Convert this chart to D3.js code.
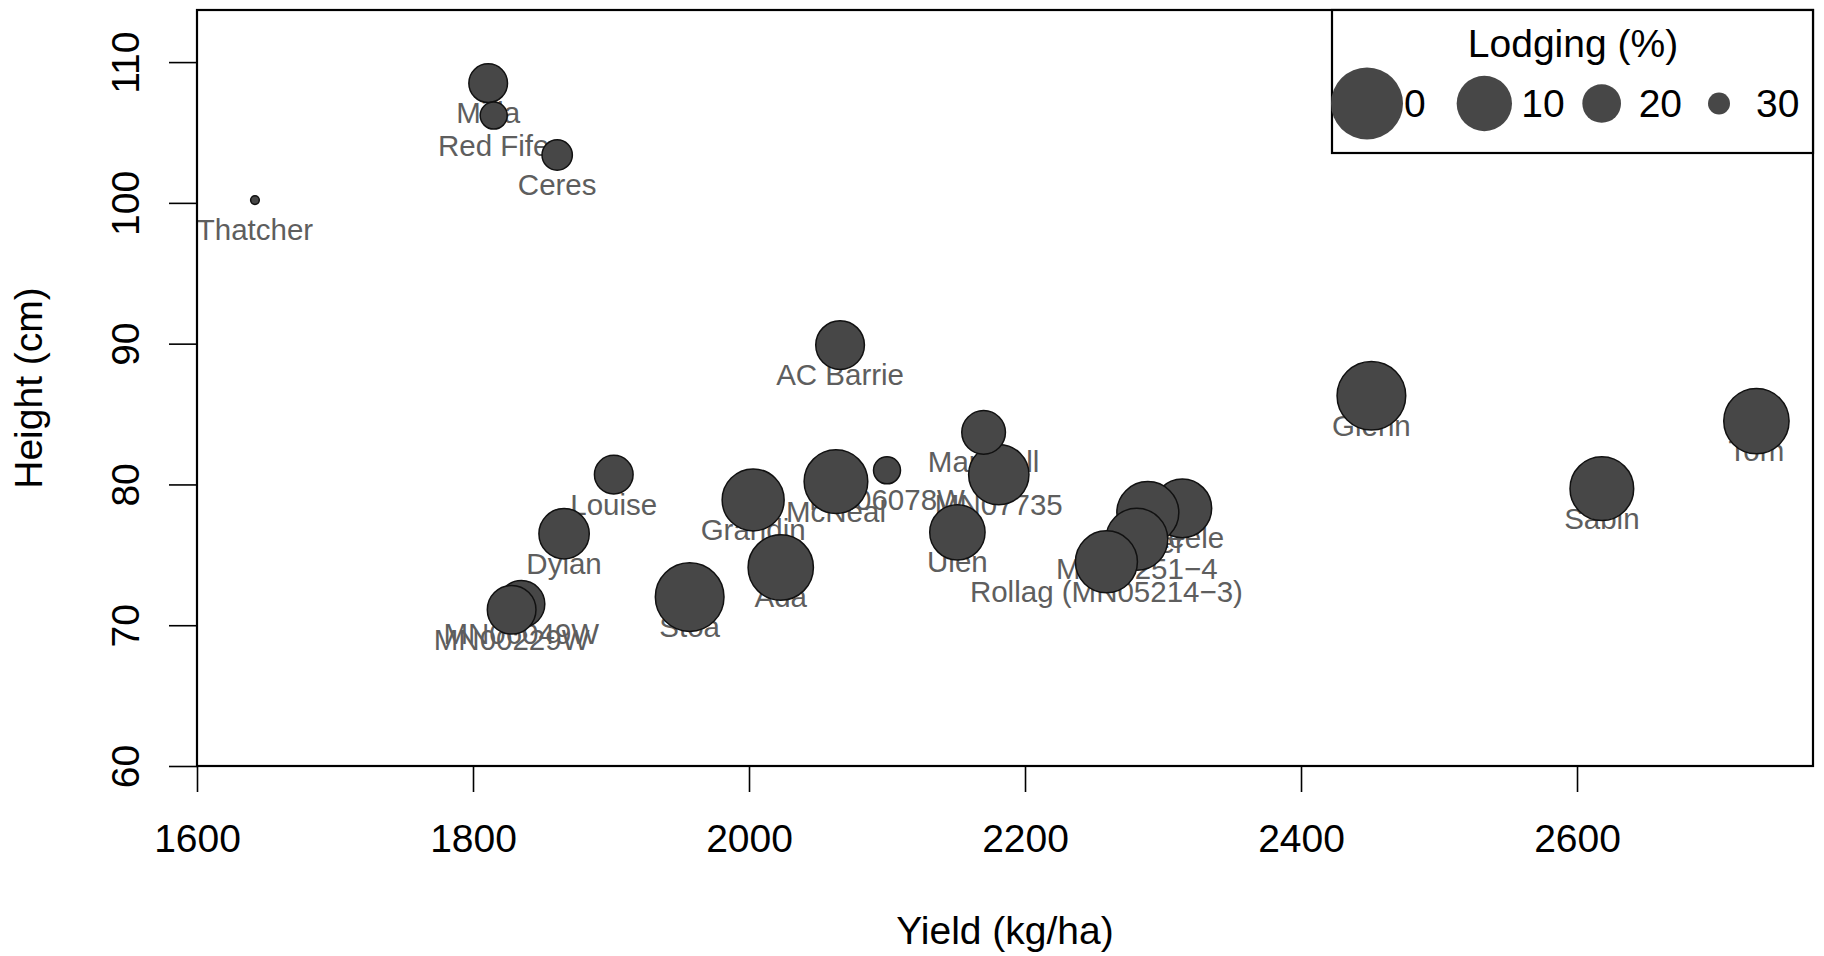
<!DOCTYPE html>
<html>
<head>
<meta charset="utf-8">
<script src="https://cdn.jsdelivr.net/npm/d3@7"></script>
<style>
  body { margin: 0; background: #fff; }
  svg text { font-family: "Liberation Sans", Arial, sans-serif; }
</style>
</head>
<body>
<div class="chart"></div>
<script>
// variety data
var varieties = ["Thatcher", "Mida", "Red Fife", "Ceres", "AC Barrie", "Louise", "Dylan",
  "MN06049W", "MN00229W", "Grandin", "McNeal", "MN06078W", "Ada", "Stoa", "MN07735",
  "Marshall", "Ulen", "Steele", "Faller", "MN08251\u22124", "Rollag (MN05214\u22123)",
  "Glenn", "Sabin", "Tom"];
var yieldKg = [1642, 1811, 1815, 1861, 2066, 1902, 1866, 1835, 1828, 2003, 2063, 2100, 2023,
  1957, 2181, 2170, 2151, 2314, 2289, 2281, 2259, 2451, 2618, 2730];
var heightCm = [100.2, 108.5, 106.2, 103.4, 89.9, 80.7, 76.5, 71.5, 71.1, 78.9, 80.2, 81.0, 74.1,
  72.0, 80.7, 83.7, 76.6, 78.3, 78.0, 76.1, 74.5, 86.3, 79.7, 84.5];
var lodging = [38, 20, 27, 25, 14, 20, 13, 15, 14, 6, 5, 27, 4, 2, 7, 17, 10, 8, 6, 6, 6, 2, 5, 4];

var xTicks = [1600, 1800, 2000, 2200, 2400, 2600];
var yTicks = [60, 70, 80, 90, 100, 110];
var legendValues = [0, 10, 20, 30];

var svgWidth = 1824, svgHeight = 956;
var margin = { top: 10, right: 11, bottom: 190, left: 197 };
var width = svgWidth - margin.left - margin.right;
var height = svgHeight - margin.top - margin.bottom;

var svg = d3.select(".chart").append("svg")
  .attr("width", svgWidth)
  .attr("height", svgHeight);

var chartGroup = svg.append("g")
  .attr("transform", `translate(${margin.left}, ${margin.top})`);

// scales
var xScale = d3.scaleLinear().domain([1600, 2771]).range([0, width]);
var yScale = d3.scaleLinear().domain([60, 113.7]).range([height, 0]);
var rScale = d3.scaleLinear().domain([0, 30]).range([36, 11]);

var data = varieties.map(function (name, i) {
  return { name: name, yield: yieldKg[i], height: heightCm[i], lodging: lodging[i] };
});

// axes
var bottomAxis = d3.axisBottom(xScale).tickValues(xTicks).tickFormat(d3.format("d"))
  .tickSize(26).tickSizeOuter(0);
var leftAxis = d3.axisLeft(yScale).tickValues(yTicks).tickFormat(d3.format("d"))
  .tickSize(28).tickSizeOuter(0);

var xAxisG = chartGroup.append("g")
  .attr("transform", `translate(0, ${height})`)
  .call(bottomAxis);
xAxisG.select(".domain").remove();
xAxisG.selectAll("line").attr("stroke", "#000").attr("stroke-width", 1.6);
xAxisG.selectAll("text")
  .attr("y", 86).attr("dy", null)
  .attr("font-size", 39).attr("fill", "#000");

var yAxisG = chartGroup.append("g").call(leftAxis);
yAxisG.select(".domain").remove();
yAxisG.selectAll("line").attr("stroke", "#000").attr("stroke-width", 1.6);
yAxisG.selectAll("text")
  .attr("x", null).attr("dy", null)
  .attr("text-anchor", "middle")
  .attr("transform", "translate(-58,0) rotate(-90)")
  .attr("font-size", 39).attr("fill", "#000");

// labels first, points on top of them
chartGroup.selectAll(".lbl")
  .data(data)
  .enter()
  .append("text")
  .attr("class", "lbl")
  .attr("x", d => xScale(d.yield))
  .attr("y", d => yScale(d.height) + 40)
  .attr("text-anchor", "middle")
  .attr("font-size", 29.5)
  .attr("fill", "#5e5e5e")
  .text(d => d.name);

chartGroup.selectAll("circle")
  .data(data)
  .enter()
  .append("circle")
  .attr("cx", d => xScale(d.yield))
  .attr("cy", d => yScale(d.height))
  .attr("r", d => rScale(d.lodging))
  .attr("fill", "#474747")
  .attr("stroke", "#111")
  .attr("stroke-width", 1.5);

// plot frame
chartGroup.append("rect")
  .attr("width", width).attr("height", height)
  .attr("fill", "none").attr("stroke", "#000").attr("stroke-width", 2.2);

// axis titles
svg.append("text")
  .attr("x", margin.left + width / 2).attr("y", 944)
  .attr("text-anchor", "middle").attr("font-size", 39)
  .text("Yield (kg/ha)");

svg.append("text")
  .attr("transform", `translate(42, ${margin.top + height / 2}) rotate(-90)`)
  .attr("text-anchor", "middle").attr("font-size", 39)
  .text("Height (cm)");

// legend
var legend = svg.append("g");
legend.append("rect")
  .attr("x", 1332).attr("y", margin.top)
  .attr("width", 1813 - 1332).attr("height", 143)
  .attr("fill", "#fff").attr("stroke", "#000").attr("stroke-width", 2.2);
legend.append("text")
  .attr("x", 1573).attr("y", 57)
  .attr("text-anchor", "middle").attr("font-size", 39)
  .text("Lodging (%)");

var legendX = d3.scaleLinear().domain([0, 3]).range([1367, 1719]);
legend.selectAll(".legtxt")
  .data(legendValues)
  .enter()
  .append("text")
  .attr("class", "legtxt")
  .attr("x", (d, i) => legendX(i) + 37)
  .attr("y", 117)
  .attr("font-size", 39)
  .text(d => d);
legend.selectAll("circle")
  .data(legendValues)
  .enter()
  .append("circle")
  .attr("cx", (d, i) => legendX(i))
  .attr("cy", 103.5)
  .attr("r", d => rScale(d))
  .attr("fill", "#474747");
</script>
</body>
</html>
